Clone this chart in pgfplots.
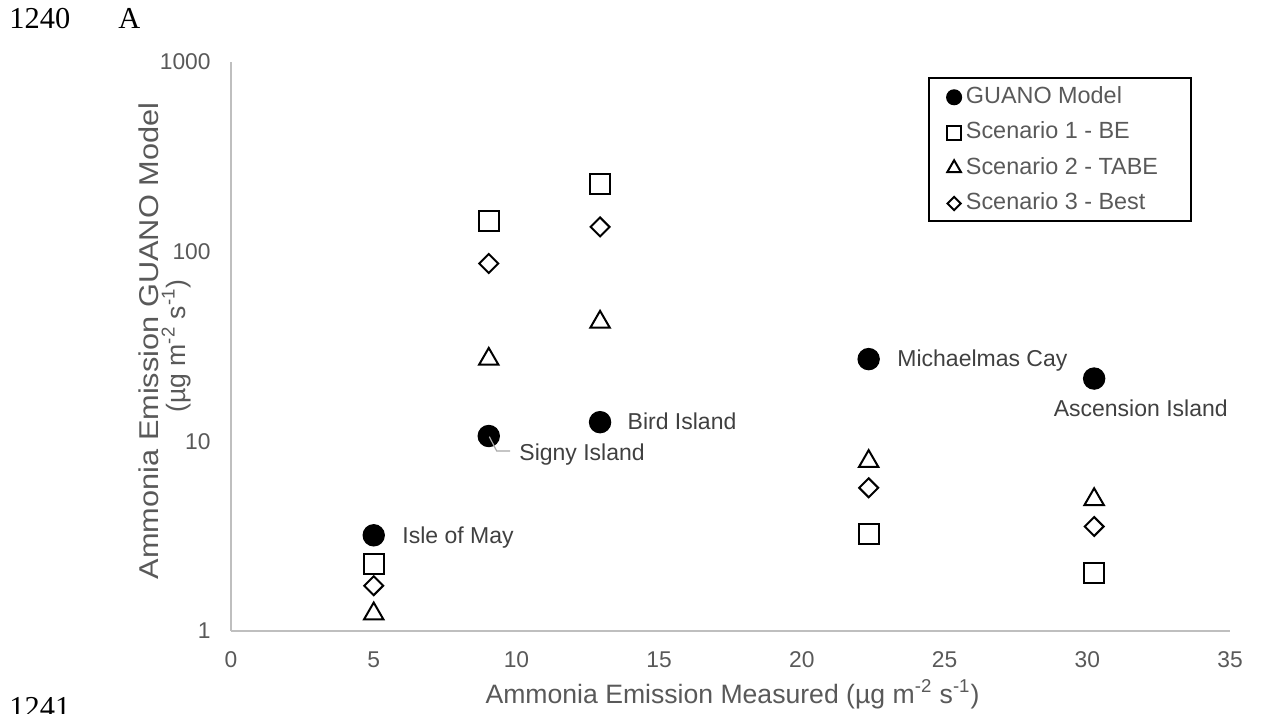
\documentclass[border=0pt]{standalone}
\usepackage{fontspec}
\setmainfont{Liberation Sans}
\newfontfamily\seriffont{Liberation Serif}
\usepackage{graphicx}
\usepackage{pgfplots}
\pgfplotsset{compat=1.18}
\definecolor{axgray}{HTML}{BFBFBF}
\definecolor{txtgray}{HTML}{595959}
\definecolor{lblgray}{HTML}{404040}
\definecolor{leadgray}{HTML}{A6A6A6}
\begin{document}
\begin{tikzpicture}[x=1pt,y=1pt]
\useasboundingbox (0,0) rectangle (630.5,356.5);
\begin{axis}[
  at={(115.5pt,41.1pt)}, anchor=south west,
  scale only axis, width=499.5pt, height=284.4pt,
  xmin=0, xmax=35, ymin=1, ymax=1000, ymode=log, log basis y=10,
  axis lines*=left, axis line style={axgray, line width=0.8pt, -},
  tick style={draw=none},
  xtick={0,5,...,35},
  ytick={1,10,100,1000}, yticklabels={1,10,100,1000},
  /pgf/number format/assume math mode=true,
  ticklabel style={font=\fontsize{11.4}{13.7}\selectfont, text=txtgray},
  xticklabel style={anchor=center, inner sep=0pt, yshift=-14.5pt},
  yticklabel style={anchor=east, inner sep=0pt, xshift=-10pt},
  clip=false,
  legend style={draw=none, fill=none, at={(0.716,0.958)}, anchor=north west,
    inner sep=0pt, row sep=6.7pt, font=\fontsize{11.7}{14}\selectfont, text=txtgray,
    cells={anchor=west},
    nodes={inner sep=0pt, text height=8.5pt, text depth=2.5pt},
    /tikz/every odd column/.append style={column sep=2.2pt}},
  legend image code/.code={\draw[#1, every mark/.append style={scale=0.7}] plot coordinates {(0pt,0pt)};},
]
\addplot[only marks, black, mark=*, mark size=5.3pt, line width=0.6pt]
  coordinates {(5.0,3.19) (9.03,10.65) (12.93,12.6) (22.34,27.1) (30.24,21.4)};
\addlegendentry{GUANO Model}
\addplot[only marks, black, mark=square, mark size=5pt, line width=1pt]
  coordinates {(5.0,2.24) (9.03,145) (12.93,226) (22.34,3.26) (30.24,2.03)};
\addlegendentry{Scenario 1 - BE}
\addplot[only marks, black, mark=triangle, mark size=5.6pt, line width=1pt]
  coordinates {(5.0,1.23) (9.03,27.1) (12.93,42.5) (22.34,7.83) (30.24,4.93)};
\addlegendentry{Scenario 2 - TABE}
\addplot[only marks, black, mark=square, mark options={rotate=45}, mark size=3.35pt, line width=1pt]
  coordinates {(5.0,1.73) (9.03,86.5) (12.93,135) (22.34,5.68) (30.24,3.55)};
\addlegendentry{Scenario 3 - Best}
\end{axis}
% legend frame
\draw[black, line width=0.8pt] (464.5,317.5) rectangle (595.5,246);
% data labels
\begin{scope}[every node/.style={font=\fontsize{11.5}{13.8}\selectfont, text=lblgray, inner sep=0pt}]
\node[anchor=base west] at (201,84.85) {Isle of May};
\node[anchor=base west] at (259.5,126.5) {Signy Island};
\node[anchor=base west] at (313.65,141.85) {Bird Island};
\node[anchor=base west] at (448.5,173.5) {Michaelmas Cay};
\node[anchor=base west] at (526.7,148.5) {Ascension Island};
\end{scope}
\draw[leadgray, line width=0.6pt] (244.65,138.15) -- (248.35,131) -- (255,131);
% axis titles
\node[anchor=base, inner sep=0pt, text=txtgray, font=\fontsize{13.3}{16}\selectfont] at (366.25,5) {Ammonia Emission Measured (µg m\textsuperscript{-2} s\textsuperscript{-1})};
\node[rotate=90, anchor=base, inner sep=0pt, text=txtgray, font=\fontsize{13.6}{16}\selectfont] at (79,186) {\scalebox{1.13}[1]{Ammonia Emission GUANO Model}};
\node[rotate=90, anchor=base, inner sep=0pt, text=txtgray, font=\fontsize{13.3}{16}\selectfont] at (92.5,183.5) {(µg m\textsuperscript{-2} s\textsuperscript{-1})};
% manuscript line numbers
\node[anchor=base west, inner sep=0pt, font=\seriffont\fontsize{15.2}{18}\selectfont] at (4.5,342) {1240};
\node[anchor=base west, inner sep=0pt, font=\seriffont\fontsize{15.2}{18}\selectfont] at (59,342) {A};
\node[anchor=base west, inner sep=0pt, font=\seriffont\fontsize{15.2}{18}\selectfont] at (4.5,-2) {1241};
\end{tikzpicture}
\end{document}
